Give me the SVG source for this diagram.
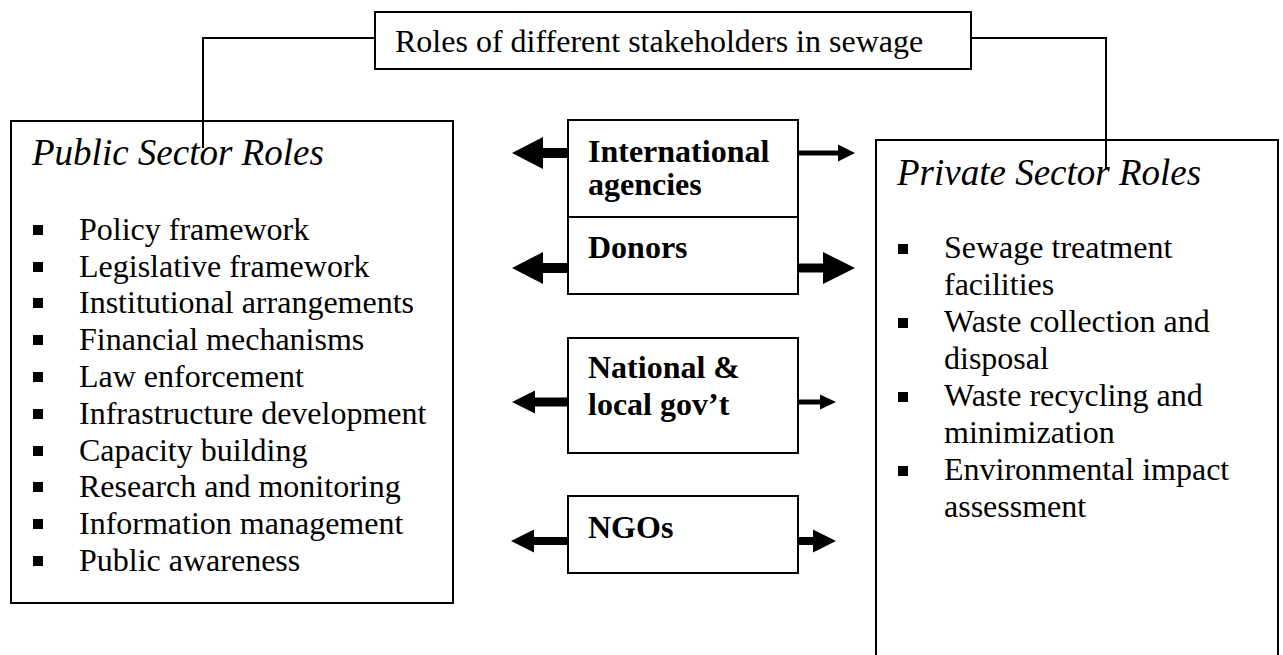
<svg xmlns="http://www.w3.org/2000/svg" width="1283" height="655" viewBox="0 0 1283 655">
  <style>
    .box { fill: #ffffff; stroke: #000000; stroke-width: 2; }
    .wire { fill: none; stroke: #000000; stroke-width: 2; }
    .arrow { fill: #000000; stroke: none; }
    .bullet { fill: #000000; }
    text { font-family: "Liberation Serif", "Times New Roman", serif; fill: #000000; }
    .title { font-size: 32px; }
    .head { font-size: 37px; font-style: italic; }
    .item { font-size: 32px; }
    .actor { font-size: 32px; font-weight: bold; }
  </style>
  <defs>
    <rect id="sq" class="bullet" width="10" height="10"/>
  </defs>
  <rect x="0" y="0" width="1283" height="655" fill="#ffffff"/>

  <!-- Title -->
  <g id="title">
    <rect class="box" x="375" y="12" width="596" height="57"/>
    <text class="title" x="395" y="52">Roles of different stakeholders in sewage</text>
  </g>

  <!-- Public sector -->
  <g id="public-sector">
    <rect class="box" x="11" y="121" width="442" height="482"/>
    <text class="head" x="32" y="165">Public Sector Roles</text>
    <use href="#sq" x="33" y="225"/>
    <text class="item" x="79" y="240">Policy framework</text>
    <use href="#sq" x="33" y="262"/>
    <text class="item" x="79" y="277">Legislative framework</text>
    <use href="#sq" x="33" y="298"/>
    <text class="item" x="79" y="313">Institutional arrangements</text>
    <use href="#sq" x="33" y="335"/>
    <text class="item" x="79" y="350">Financial mechanisms</text>
    <use href="#sq" x="33" y="372"/>
    <text class="item" x="79" y="387">Law enforcement</text>
    <use href="#sq" x="33" y="409"/>
    <text class="item" x="79" y="424">Infrastructure development</text>
    <use href="#sq" x="33" y="446"/>
    <text class="item" x="79" y="461">Capacity building</text>
    <use href="#sq" x="33" y="482"/>
    <text class="item" x="79" y="497">Research and monitoring</text>
    <use href="#sq" x="33" y="519"/>
    <text class="item" x="79" y="534">Information management</text>
    <use href="#sq" x="33" y="556"/>
    <text class="item" x="79" y="571">Public awareness</text>
  </g>

  <!-- Private sector -->
  <g id="private-sector">
    <rect class="box" x="876" y="140" width="402" height="530"/>
    <text class="head" x="897" y="185">Private Sector Roles</text>
    <use href="#sq" x="898" y="244"/>
    <text class="item" x="944" y="258">Sewage treatment</text>
    <text class="item" x="944" y="295">facilities</text>
    <use href="#sq" x="898" y="318"/>
    <text class="item" x="944" y="332">Waste collection and</text>
    <text class="item" x="944" y="369">disposal</text>
    <use href="#sq" x="898" y="392"/>
    <text class="item" x="944" y="406">Waste recycling and</text>
    <text class="item" x="944" y="443">minimization</text>
    <use href="#sq" x="898" y="466"/>
    <text class="item" x="944" y="480">Environmental impact</text>
    <text class="item" x="944" y="517">assessment</text>
  </g>

  <!-- Stakeholders in the middle column -->
  <g id="international-agencies">
    <rect class="box" x="568" y="120" width="230" height="97"/>
    <text class="actor" x="588" y="162">International</text>
    <text class="actor" x="588" y="195">agencies</text>
  </g>
  <g id="donors">
    <rect class="box" x="568" y="217" width="230" height="77"/>
    <text class="actor" x="588" y="258">Donors</text>
  </g>
  <g id="government">
    <rect class="box" x="568" y="338" width="230" height="115"/>
    <text class="actor" x="588" y="378">National &amp;</text>
    <text class="actor" x="588" y="415">local gov’t</text>
  </g>
  <g id="ngos">
    <rect class="box" x="568" y="496" width="230" height="77"/>
    <text class="actor" x="588" y="538">NGOs</text>
  </g>

  <!-- Connectors -->
  <g id="connectors">
    <polyline class="wire" points="375,38 203,38 203,148"/>
    <polyline class="wire" points="971,38 1106,38 1106,168"/>

    <!-- international agencies -->
    <polygon class="arrow" points="512,153 543,137 543,148 568,148 568,158 543,158 543,169"/>
    <polygon class="arrow" points="798,150.5 838,150.5 838,144.5 855,153 838,161.5 838,155.5 798,155.5"/>
    <!-- donors -->
    <polygon class="arrow" points="512,268 543,252 543,263 568,263 568,273 543,273 543,284"/>
    <polygon class="arrow" points="798,263.5 823,263.5 823,252 855,268 823,284 823,272.5 798,272.5"/>
    <!-- national & local government -->
    <polygon class="arrow" points="512,402 535,390.5 535,397.5 568,397.5 568,406.5 535,406.5 535,413.5"/>
    <polygon class="arrow" points="798,399.5 820,399.5 820,394.5 836,402 820,409.5 820,404.5 798,404.5"/>
    <!-- NGOs -->
    <polygon class="arrow" points="511,541 534,529.5 534,537 568,537 568,545 534,545 534,552.5"/>
    <polygon class="arrow" points="798,537 813,537 813,529.5 836,541 813,552.5 813,545 798,545"/>
  </g>
</svg>
